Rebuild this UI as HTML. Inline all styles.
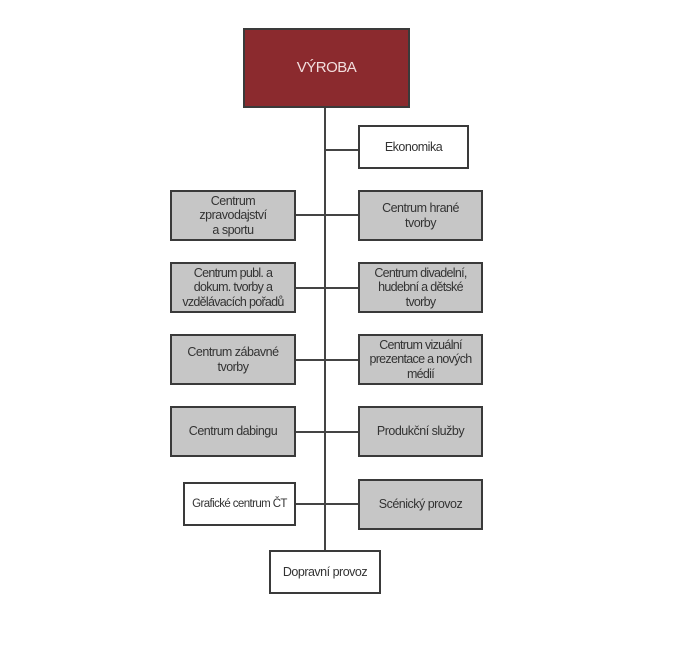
<!DOCTYPE html>
<html><head><meta charset="utf-8"><style>
body{margin:0;width:674px;height:660px;background:#fff;position:relative;overflow:hidden;font-family:"Liberation Sans",sans-serif;}
.b{position:absolute;box-sizing:border-box;border:2px solid #3a3a3a;display:flex;align-items:center;justify-content:center;text-align:center;font-size:12.5px;line-height:14.5px;color:#333;letter-spacing:-0.5px}
.g{background:#c6c6c6}
.w{background:#fff}
.l{position:absolute;background:#444}
</style></head><body>
<div class="l" style="left:324px;top:105px;width:2px;height:446px"></div>
<div class="l" style="left:325px;top:149px;width:34px;height:2px"></div>
<div class="l" style="left:294px;top:214px;width:65px;height:2px"></div>
<div class="l" style="left:294px;top:287px;width:65px;height:2px"></div>
<div class="l" style="left:294px;top:359px;width:65px;height:2px"></div>
<div class="l" style="left:294px;top:431px;width:65px;height:2px"></div>
<div class="l" style="left:294px;top:503px;width:65px;height:2px"></div>
<div class="b" style="left:243px;top:28px;width:167px;height:80px;background:#8b2a2e;color:#f2dede;font-size:15px">VÝROBA</div>
<div class="b w" style="left:358px;top:125px;width:111px;height:44px">Ekonomika</div>
<div class="b g" style="left:170px;top:190px;width:126px;height:51px">Centrum<br>zpravodajství<br>a sportu</div>
<div class="b g" style="left:358px;top:190px;width:125px;height:51px">Centrum hrané<br>tvorby</div>
<div class="b g" style="left:170px;top:262px;width:126px;height:51px;letter-spacing:-0.7px">Centrum publ. a<br>dokum. tvorby a<br>vzdělávacích pořadů</div>
<div class="b g" style="left:358px;top:262px;width:125px;height:51px;letter-spacing:-0.7px">Centrum divadelní,<br>hudební a dětské<br>tvorby</div>
<div class="b g" style="left:170px;top:334px;width:126px;height:51px">Centrum zábavné<br>tvorby</div>
<div class="b g" style="left:358px;top:334px;width:125px;height:51px;letter-spacing:-0.7px">Centrum vizuální<br>prezentace a nových<br>médií</div>
<div class="b g" style="left:170px;top:406px;width:126px;height:51px">Centrum dabingu</div>
<div class="b g" style="left:358px;top:406px;width:125px;height:51px">Produkční služby</div>
<div class="b w" style="left:183px;top:482px;width:113px;height:44px;font-size:11.5px;letter-spacing:-0.6px">Grafické centrum ČT</div>
<div class="b g" style="left:358px;top:479px;width:125px;height:51px">Scénický provoz</div>
<div class="b w" style="left:269px;top:550px;width:112px;height:44px">Dopravní provoz</div>
</body></html>
